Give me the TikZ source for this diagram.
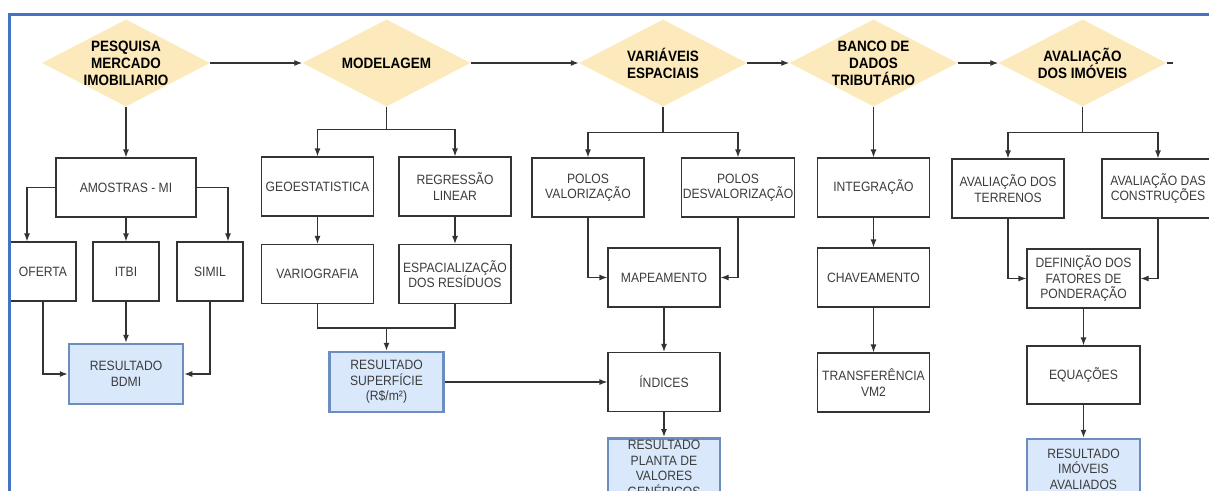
\documentclass[tikz,border=0pt]{standalone}
\usepackage{fontspec}
\setmainfont{Liberation Sans}[FakeStretch=0.9]
\usepackage{tikz}
\usetikzlibrary{shapes.geometric,arrows.meta}

\definecolor{frameblue}{RGB}{68,114,196}
\definecolor{decfill}{RGB}{252,234,188}
\definecolor{resfill}{RGB}{218,232,252}
\definecolor{resline}{RGB}{108,142,191}
\definecolor{edgegray}{RGB}{51,51,51}
\definecolor{textgray}{RGB}{60,60,60}

\begin{document}
\begin{tikzpicture}[x=1pt, y=-1pt, >={Latex[length=8pt,width=6pt]},
	decision/.style={diamond, fill=decfill, aspect=1.93, minimum width=168pt, minimum height=87pt, inner sep=-6pt, align=center, font=\fontsize{15}{17}\selectfont\bfseries},
	stepbox/.style={draw=edgegray, line width=1.2pt, fill=white, minimum width=112pt, minimum height=59pt, inner sep=1pt, align=center, text=textgray, font=\fontsize{13.5}{15.5}\selectfont},
	resultbox/.style={stepbox, draw=resline, fill=resfill, line width=2.5pt, minimum width=114pt, minimum height=60pt},
	link/.style={draw=edgegray, line width=1.2pt}]
	\useasboundingbox (0,0) rectangle (1209,490);
	\clip (0,0) rectangle (1209,490);

	% Main stages along the top
	\node[decision] (pesq) at (126,63) {PESQUISA\\MERCADO\\IMOBILIARIO};
	\node[decision] (model) at (386.5,63) {MODELAGEM};
	\node[decision] (varesp) at (663,63) {VARIÁVEIS\\ESPACIAIS};
	\node[decision] (banco) at (873.5,63) {BANCO DE\\DADOS\\TRIBUTÁRIO};
	\node[decision] (avalia) at (1082.5,63) {AVALIAÇÃO\\DOS IMÓVEIS};
	\coordinate (stub) at (1173,63);

	% Market research branch
	\node[stepbox, minimum width=140pt] (amostras) at (126,187.5) {AMOSTRAS - MI};
	\node[stepbox, minimum width=66pt] (oferta) at (43,271.5) {OFERTA};
	\node[stepbox, minimum width=66pt] (itbi) at (126,271.5) {ITBI};
	\node[stepbox, minimum width=66pt] (simil) at (210,271.5) {SIMIL};
	\node[resultbox] (bdmi) at (126,374) {RESULTADO\\BDMI};

	% Modelling branch
	\node[stepbox] (geo) at (317.5,186.5) {GEOESTATISTICA};
	\node[stepbox] (regr) at (455,186.5) {REGRESSÃO\\LINEAR};
	\node[stepbox] (vario) at (317.5,274) {VARIOGRAFIA};
	\node[stepbox] (espac) at (455,274) {ESPACIALIZAÇÃO\\DOS RESÍDUOS};
	\node[resultbox] (superf) at (386.5,382) {RESULTADO\\SUPERFÍCIE\\(R\$/m²)};
	\coordinate (vj) at (386.5,328);

	% Spatial variables branch
	\node[stepbox] (polosv) at (588,187.5) {POLOS\\VALORIZAÇÃO};
	\node[stepbox] (polosd) at (738,187.5) {POLOS\\DESVALORIZAÇÃO};
	\node[stepbox] (mapea) at (664,277.5) {MAPEAMENTO};
	\node[stepbox] (indices) at (664,382) {ÍNDICES};
	\node[resultbox, minimum width=112pt, anchor=north] (planta) at (664,437) {RESULTADO\\PLANTA DE\\VALORES\\GENÉRICOS};

	% Tax database branch
	\node[stepbox] (integ) at (873.5,187.5) {INTEGRAÇÃO};
	\node[stepbox] (chave) at (873.5,277.5) {CHAVEAMENTO};
	\node[stepbox] (transf) at (873.5,382.5) {TRANSFERÊNCIA\\VM2};

	% Property valuation branch
	\node[stepbox] (terren) at (1008,188.5) {AVALIAÇÃO DOS\\TERRENOS};
	\node[stepbox] (constr) at (1158,188.5) {AVALIAÇÃO DAS\\CONSTRUÇÕES};
	\node[stepbox, minimum width=113pt] (defin) at (1083.5,278.5) {DEFINIÇÃO DOS\\FATORES DE\\PONDERAÇÃO};
	\node[stepbox, minimum width=113pt, minimum height=58pt] (equac) at (1083.5,375) {EQUAÇÕES};
	\node[resultbox, minimum width=113pt] (imoveis) at (1083.5,469) {RESULTADO\\IMÓVEIS\\AVALIADOS};

	% Top row arrows
	\draw[link, ->] (pesq) -- (model);
	\draw[link, ->] (model) -- (varesp);
	\draw[link, ->] (varesp) -- (banco);
	\draw[link, ->] (banco) -- (avalia);
	\draw[link] (avalia.east) -- (stub);

	\draw[link, ->] (pesq) -- (amostras);
	\draw[link, ->] (amostras.west) -| ([xshift=-16pt]oferta.north);
	\draw[link, ->] (amostras) -- (itbi);
	\draw[link, ->] (amostras.east) -| ([xshift=18pt]simil.north);
	\draw[link, ->] (oferta.south) |- (bdmi.west);
	\draw[link, ->] (itbi) -- (bdmi);
	\draw[link, ->] (simil.south) |- (bdmi.east);

	\draw[link, ->] (model.south) -- ++(0,23) -| (geo.north);
	\draw[link, ->] (model.south) -- ++(0,23) -| (regr.north);
	\draw[link, ->] (geo) -- (vario);
	\draw[link, ->] (regr) -- (espac);
	\draw[link] (vario.south) |- (vj) -| (espac.south);
	\draw[link, ->] (vj) -- (superf);
	\draw[link, ->] (superf) -- (indices);

	\draw[link, ->] (varesp.south) -- ++(0,26) -| (polosv.north);
	\draw[link, ->] (varesp.south) -- ++(0,26) -| (polosd.north);
	\draw[link, ->] (polosv.south) |- (mapea.west);
	\draw[link, ->] (polosd.south) |- (mapea.east);
	\draw[link, ->] (mapea) -- (indices);
	\draw[link, ->] (indices) -- (planta);

	\draw[link, ->] (banco) -- (integ);
	\draw[link, ->] (integ) -- (chave);
	\draw[link, ->] (chave) -- (transf);

	\draw[link, ->] (avalia.south) -- ++(0,26) -| (terren.north);
	\draw[link, ->] (avalia.south) -- ++(0,26) -| (constr.north);
	\draw[link, ->] (terren.south) |- (defin.west);
	\draw[link, ->] (constr.south) |- (defin.east);
	\draw[link, ->] (defin) -- (equac);
	\draw[link, ->] (equac) -- (imoveis);

	% Page frame
	\draw[frameblue, line width=3pt] (9,492) -- (9,14) -- (1212,14);
\end{tikzpicture}
\end{document}
